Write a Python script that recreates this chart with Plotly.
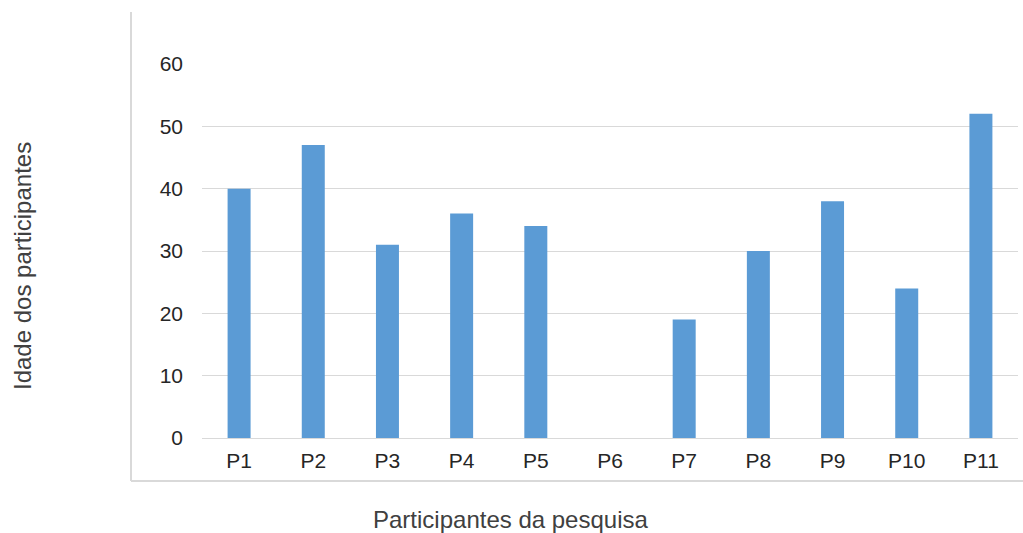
import plotly.graph_objects as go

# Participant labels and ages
participants = ["P1", "P2", "P3", "P4", "P5", "P6", "P7", "P8", "P9", "P10", "P11"]
ages = [40, 47, 31, 36, 34, 0, 19, 30, 38, 24, 52]
y_ticks = [0, 10, 20, 30, 40, 50, 60]

W, H = 1023, 533
L, R, T, B = 202, 5, 64, 95
pw, ph = W - L - R, H - T - B


def px_x(x):
    return (x - L) / pw


def px_y(y):
    return (H - B - y) / ph


fig = go.Figure(
    go.Bar(
        x=participants,
        y=ages,
        marker=dict(color="#5B9BD5", line=dict(width=0)),
        hoverinfo="x+y",
    )
)

grid = "#D9D9D9"
font = "Liberation Sans, Arial, sans-serif"

fig.update_layout(
    width=W,
    height=H,
    margin=dict(l=L, r=R, t=T, b=B),
    paper_bgcolor="white",
    plot_bgcolor="white",
    bargap=0.69,
    showlegend=False,
    font=dict(family=font, size=21, color="#262626"),
    xaxis=dict(
        showgrid=False,
        showline=False,
        ticks="",
        ticklabelstandoff=8,
        tickfont=dict(size=21, color="#262626"),
    ),
    yaxis=dict(
        range=[0, 60],
        tickvals=y_ticks,
        showgrid=True,
        gridcolor=grid,
        gridwidth=1,
        zeroline=True,
        zerolinecolor=grid,
        zerolinewidth=1,
        showline=False,
        ticks="",
        ticklabelstandoff=18,
        tickfont=dict(size=21, color="#262626"),
    ),
    shapes=[
        # chart frame: left and bottom border
        dict(type="line", xref="paper", yref="paper",
             x0=px_x(131), x1=px_x(131), y0=px_y(12), y1=px_y(481),
             line=dict(color=grid, width=2)),
        dict(type="line", xref="paper", yref="paper",
             x0=px_x(131), x1=px_x(1023), y0=px_y(481), y1=px_y(481),
             line=dict(color=grid, width=2)),
    ],
    annotations=[
        dict(text="Participantes da pesquisa", xref="paper", yref="paper",
             x=px_x(510), y=px_y(519), showarrow=False,
             xanchor="center", yanchor="middle",
             font=dict(size=24, color="#404040")),
        dict(text="Idade dos participantes", xref="paper", yref="paper",
             x=px_x(22), y=px_y(266), showarrow=False, textangle=-90,
             xanchor="center", yanchor="middle",
             font=dict(size=24, color="#404040")),
    ],
)

fig.write_html("out.html")
